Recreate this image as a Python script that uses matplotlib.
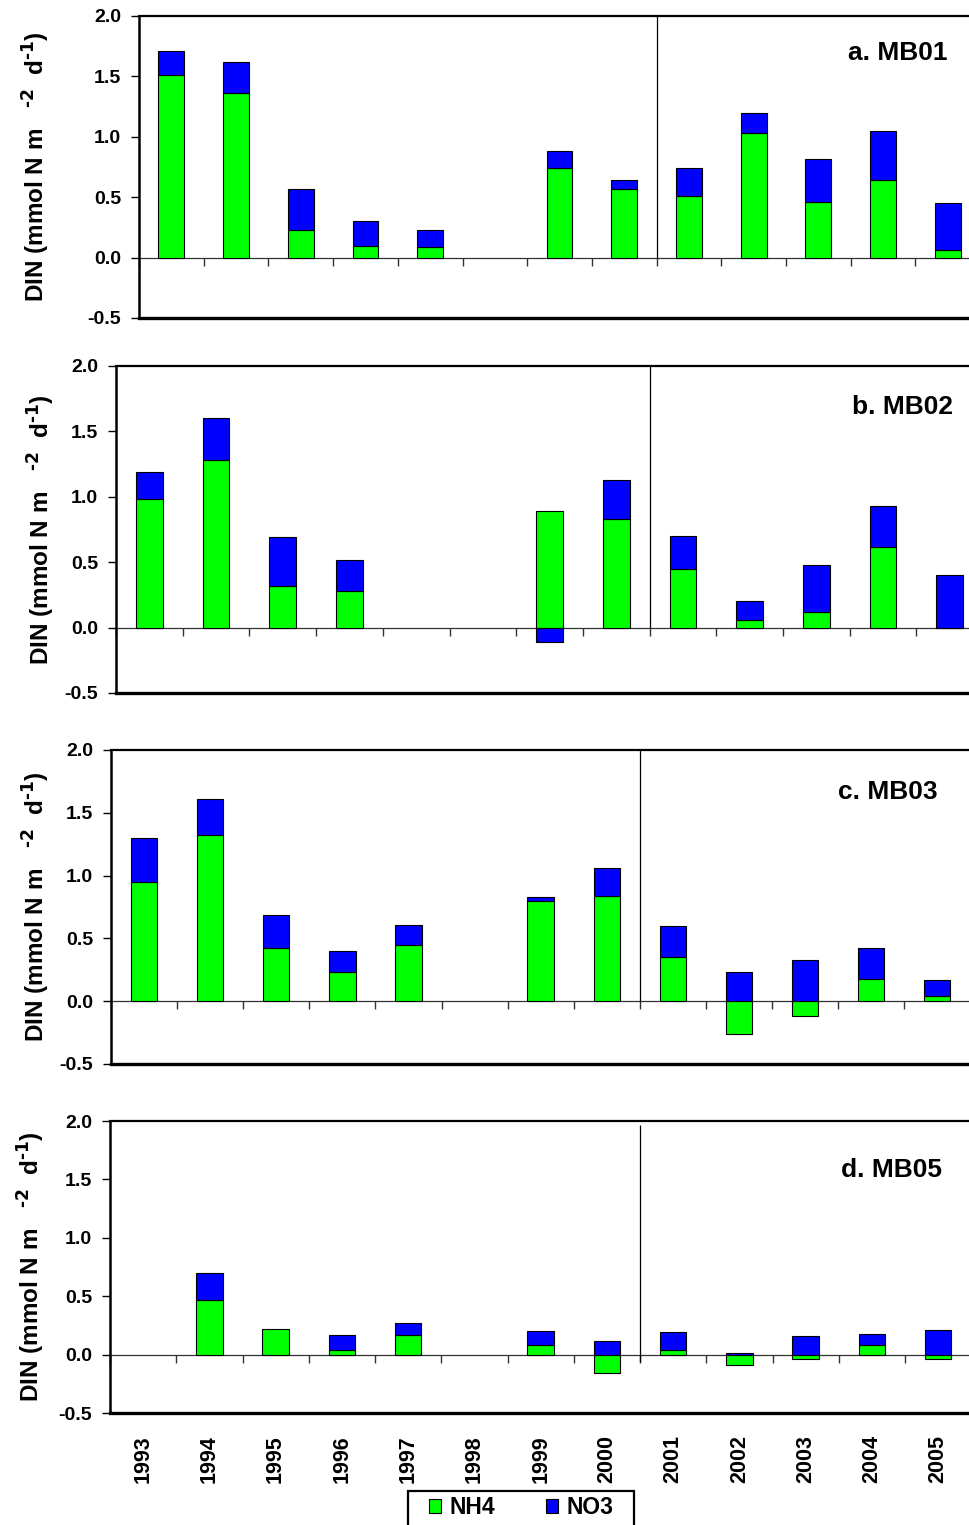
import numpy as np
import matplotlib
matplotlib.use("Agg")
import matplotlib.pyplot as plt
from matplotlib.patches import Patch, Rectangle

plt.rcParams['font.family'] = ['Liberation Sans', 'DejaVu Sans']
plt.rcParams['font.weight'] = 'bold'
plt.rcParams['mathtext.default'] = 'regular'
plt.rcParams['axes.unicode_minus'] = False

years = ['1993', '1994', '1995', '1996', '1997', '1998', '1999',
         '2000', '2001', '2002', '2003', '2004', '2005']
nan = np.nan

nh4_mb01 = [1.51, 1.36, 0.23, 0.10, 0.09, nan, 0.74, 0.57, 0.51, 1.03, 0.46, 0.64, 0.06]
no3_mb01 = [0.20, 0.26, 0.34, 0.20, 0.14, nan, 0.14, 0.07, 0.23, 0.17, 0.36, 0.41, 0.39]

nh4_mb02 = [0.98, 1.28, 0.32, 0.28, nan, nan, 0.89, 0.83, 0.45, 0.06, 0.12, 0.62, 0.0]
no3_mb02 = [0.21, 0.32, 0.37, 0.24, nan, nan, -0.11, 0.30, 0.25, 0.14, 0.36, 0.31, 0.40]

nh4_mb03 = [0.95, 1.32, 0.42, 0.23, 0.45, nan, 0.80, 0.84, 0.35, -0.26, -0.12, 0.18, 0.04]
no3_mb03 = [0.35, 0.29, 0.27, 0.17, 0.16, nan, 0.03, 0.22, 0.25, 0.23, 0.33, 0.24, 0.13]

nh4_mb05 = [nan, 0.47, 0.22, 0.04, 0.17, nan, 0.08, -0.16, 0.04, -0.09, -0.04, 0.08, -0.04]
no3_mb05 = [nan, 0.23, nan, 0.13, 0.10, nan, 0.12, 0.12, 0.15, 0.015, 0.16, 0.10, 0.21]

panel_titles = ['a. MB01', 'b. MB02', 'c. MB03', 'd. MB05']
panel_nh4 = [nh4_mb01, nh4_mb02, nh4_mb03, nh4_mb05]
panel_no3 = [no3_mb01, no3_mb02, no3_mb03, no3_mb05]

yticks = [-0.5, 0.0, 0.5, 1.0, 1.5, 2.0]
ytick_labels = ['-0.5', '0.0', '0.5', '1.0', '1.5', '2.0']

W, H = 969, 1525
fig = plt.figure(figsize=(W / 100, H / 100), dpi=100)

# axes boxes in pixels: left, top, bottom, category width
boxes = [(139, 16, 318, 64.7), (116, 366, 693, 66.7),
         (111, 750, 1064, 66.1), (110, 1121, 1413, 66.25)]
ylabel_x = [35, 40, 35, 30]
title_pos = [(948, 53), (953, 407), (938, 792), (942, 1170)]
sep_extent = [(0, 2.0), (0, 2.0), (0, 2.0), (-0.06, 1.97)]

GREEN = '#00FF00'
BLUE = '#0000FF'
x = np.arange(len(years))
bw = 0.4

for i in range(4):
    left, top, bot, cw = boxes[i]
    ax = fig.add_axes([left / W, 1 - bot / H, cw * len(years) / W, (bot - top) / H])
    nh4 = np.array(panel_nh4[i], dtype=float)
    no3 = np.array(panel_no3[i], dtype=float)

    m1 = np.isfinite(nh4)
    ax.bar(x[m1], nh4[m1], width=bw, color=GREEN, edgecolor='black', linewidth=0.8, zorder=3)
    base = np.nan_to_num(nh4)
    bottom = np.where(no3 >= 0, np.maximum(base, 0), np.minimum(base, 0))
    m2 = np.isfinite(no3)
    ax.bar(x[m2], no3[m2], width=bw, bottom=bottom[m2], color=BLUE, edgecolor='black',
           linewidth=0.8, zorder=3)

    ax.set_xlim(-0.5, len(years) - 0.5)
    ax.set_ylim(-0.5, 2.0)
    ax.set_yticks(yticks)
    ax.set_yticklabels(ytick_labels, fontsize=14, fontweight='bold')
    ax.tick_params(axis='y', direction='out', length=6, width=1, pad=7)

    ax.spines['right'].set_visible(False)
    ax.spines['left'].set_linewidth(1.8)
    ax.spines['top'].set_linewidth(1.6)
    ax.spines['bottom'].set_linewidth(2.4)

    # zero axis with category boundary ticks
    zero_frac = (0 - (-0.5)) / 2.5
    sec = ax.secondary_xaxis(zero_frac)
    sec.set_xticks(np.arange(-0.5, len(years), 1.0))
    sec.set_xticklabels([])
    sec.tick_params(direction='out', length=6, width=1, color='#333333')
    sec.spines['bottom'].set_linewidth(0.9)
    sec.spines['bottom'].set_color('#333333')

    # separator between 2000 and 2001
    y0, y1 = sep_extent[i]
    ax.vlines(7.5, y0, y1, color='black', linewidth=0.9, zorder=4)

    ax.set_xticks(x)
    if i == 3:
        ax.set_xticklabels(years, rotation=90, fontsize=15.5, fontweight='bold')
        ax.tick_params(axis='x', length=0, pad=16)
    else:
        ax.set_xticklabels([])
        ax.tick_params(axis='x', length=0)

    tx, ty = title_pos[i]
    fig.text(tx / W, 1 - ty / H, panel_titles[i], ha='right', va='center',
             fontsize=19, fontweight='bold')
    fig.text(ylabel_x[i] / W, 1 - ((top + bot) / 2) / H,
             r'DIN (mmol N m   $^{\text{-2}}$  d$^{\text{-1}}$)', rotation=90,
             ha='center', va='center', fontsize=17.5, fontweight='bold')

handles = [Patch(facecolor=GREEN, edgecolor='black', linewidth=0.8, label='NH4'),
           Patch(facecolor=BLUE, edgecolor='black', linewidth=0.8, label='NO3')]
fig.legend(handles=handles, loc='center', bbox_to_anchor=(521 / W, 1 - 1508 / H),
           ncol=2, frameon=False, prop={'size': 16.5, 'weight': 'bold'},
           handlelength=0.55, handleheight=0.55, handletextpad=0.35, columnspacing=2.2)
fig.patches.append(Rectangle((408 / W, -0.01), 226 / W, 0.01 + (1525 - 1491) / H,
                             transform=fig.transFigure, fill=False, edgecolor='black',
                             linewidth=1.6))

fig.savefig('out.png', dpi=100)
